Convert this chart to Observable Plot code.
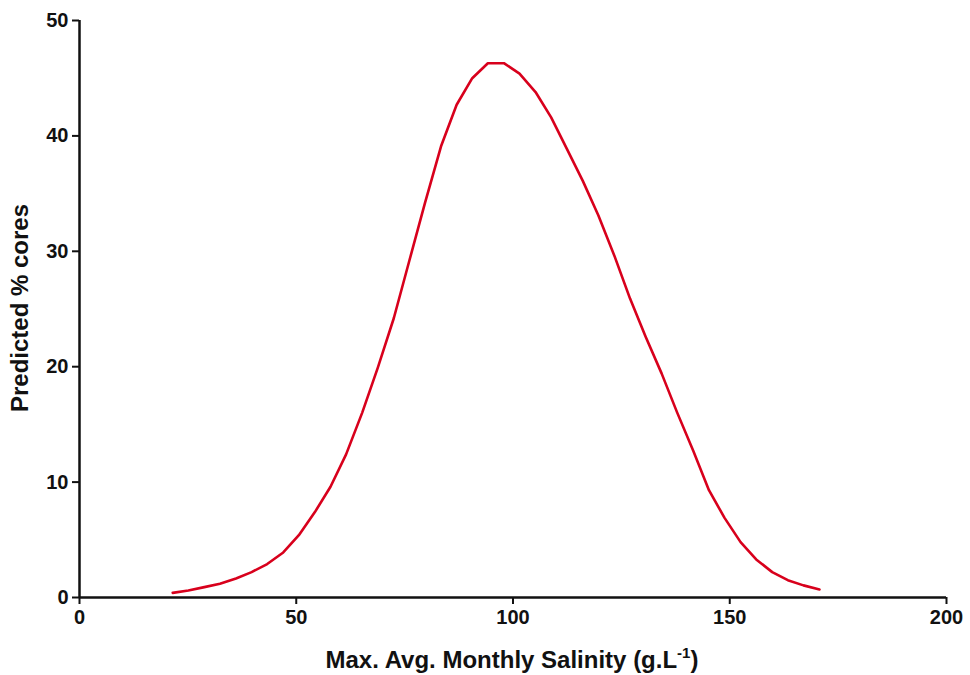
<!DOCTYPE html>
<html>
<head>
<meta charset="utf-8">
<script src="https://cdn.jsdelivr.net/npm/d3@7"></script>
<script src="https://cdn.jsdelivr.net/npm/@observablehq/plot@0.6"></script>
<style>
  html, body { margin: 0; padding: 0; background: #fff; }
  #chart svg { display: block; font-family: "Liberation Sans", Arial, sans-serif; }
</style>
</head>
<body>
<div id="chart"></div>
<script>
// Model prediction: salinity (g/L) against predicted percentage of cores
const salinity = [
  21.5, 25.1, 28.8, 32.4, 36.1, 39.7, 43.3, 47.0, 50.6, 54.3,
  57.9, 61.5, 65.2, 68.8, 72.5, 76.1, 79.7, 83.4, 87.0, 90.6,
  94.2, 97.9, 101.5, 105.2, 108.8, 112.4, 116.1, 119.7, 123.4, 127.0,
  130.6, 134.3, 137.9, 141.6, 145.2, 148.8, 152.5, 156.1, 159.8, 163.4,
  167.0, 170.7
];
const predictedCores = [
  0.4, 0.6, 0.9, 1.2, 1.65, 2.2, 2.9, 3.9, 5.4, 7.4,
  9.6, 12.4, 16.0, 19.9, 24.2, 29.2, 34.2, 39.1, 42.7, 45.0,
  46.3, 46.3, 45.4, 43.8, 41.6, 38.9, 36.1, 33.1, 29.6, 25.9,
  22.6, 19.4, 16.0, 12.7, 9.3, 6.9, 4.8, 3.3, 2.2, 1.5,
  1.05, 0.7
];
const xTicks = [0, 50, 100, 150, 200];
const yTicks = [0, 10, 20, 30, 40, 50];

const curve = salinity.map((s, i) => ({salinity: s, cores: predictedCores[i]}));

const W = 970, H = 675;
const plot = Plot.plot({
  width: W,
  height: H,
  marginLeft: 79,
  marginRight: 24,
  marginTop: 20,
  marginBottom: 78,
  style: {fontFamily: "Liberation Sans, Arial, sans-serif", background: "#fff"},
  x: {domain: [0, 200]},
  y: {domain: [0, 50]},
  marks: [
    Plot.axisX({
      ticks: xTicks, tickSize: 7, tickPadding: 5, label: null,
      stroke: "#111", strokeWidth: 2, fill: "#111",
      fontSize: 20, fontWeight: "bold"
    }),
    Plot.axisY({
      ticks: yTicks, tickSize: 7, tickPadding: 4, label: null,
      stroke: "#111", strokeWidth: 2, fill: "#111",
      fontSize: 20, fontWeight: "bold"
    }),
    Plot.ruleY([0], {x1: 0, x2: 200, stroke: "#111", strokeWidth: 2.5}),
    Plot.ruleX([0], {y1: 0, y2: 50, stroke: "#111", strokeWidth: 2.5}),
    Plot.line(curve, {x: "salinity", y: "cores", stroke: "#d8001c", strokeWidth: 2.6})
  ]
});
document.getElementById("chart").appendChild(plot);

// Axis titles (the x title carries a superscript exponent)
const svg = d3.select(plot);
const xt = svg.append("text")
  .attr("x", 512).attr("y", 668)
  .attr("text-anchor", "middle")
  .attr("font-size", 24).attr("font-weight", "bold").attr("fill", "#111");
xt.append("tspan").text("Max. Avg. Monthly Salinity (g.L");
xt.append("tspan").attr("dy", -10).attr("font-size", 15).text("-1");
xt.append("tspan").attr("dy", 10).text(")");

svg.append("text")
  .attr("transform", "translate(28,308) rotate(-90)")
  .attr("text-anchor", "middle")
  .attr("font-size", 24).attr("font-weight", "bold").attr("fill", "#111")
  .text("Predicted % cores");
</script>
</body>
</html>
